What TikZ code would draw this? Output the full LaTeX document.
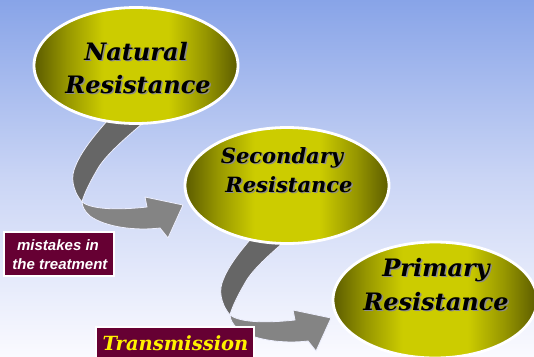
\documentclass[tikz,border=0pt]{standalone}
\usepackage{fontspec}
\usetikzlibrary{shapes.geometric}
\newfontfamily\ellfont{DejaVu Serif}
\newfontfamily\lblfont{Liberation Sans}
\definecolor{bgtop}{RGB}{136,164,232}
\definecolor{bgmid}{RGB}{202,213,245}
\definecolor{bgbot}{RGB}{250,250,255}
\definecolor{eldark}{RGB}{92,92,0}
\definecolor{elmid}{RGB}{150,150,0}
\definecolor{ellight}{RGB}{204,204,0}
\definecolor{boxmaroon}{RGB}{102,0,51}
\definecolor{ribdark}{RGB}{102,102,102}
\definecolor{riblight}{RGB}{132,132,132}
\definecolor{ribedge}{RGB}{238,240,255}
\definecolor{txtshadow}{RGB}{140,140,140}
\pgfdeclarehorizontalshading{ellshade}{100bp}{color(0bp)=(eldark); color(25bp)=(eldark); color(33bp)=(elmid); color(42bp)=(ellight); color(58bp)=(ellight); color(67bp)=(elmid); color(75bp)=(eldark); color(100bp)=(eldark)}
\tikzset{
  ell/.style={ellipse, draw=white, line width=2.8pt, shading=ellshade,
    minimum width=204pt, minimum height=116pt, inner sep=0pt},
  eltxt/.style={anchor=base, inner sep=0pt, text=black,
    font=\ellfont\bfseries\itshape\fontsize{24}{28}\selectfont},
  eltxtsh/.style={eltxt, text=txtshadow},
  smalltxt/.style={font=\ellfont\bfseries\itshape\fontsize{21}{25}\selectfont},
  lblbox/.style={draw=white, fill=boxmaroon, line width=1.5pt, inner sep=0pt},
  ribdarkpart/.style={fill=ribdark, draw=ribedge, line width=0.8pt, line join=round},
  riblightpart/.style={fill=riblight, draw=ribedge, line width=0.8pt, line join=round},
  ribbon/.pic={
    \path[ribdarkpart] (107,121) .. controls (95,135) and (80,152) .. (74,170)
      .. controls (70,182) and (76,195) .. (82,202)
      .. controls (84,194) and (90,182) .. (97,170)
      .. controls (105,155) and (128,136) .. (143,123) -- cycle;
    \path[riblightpart] (82,202) .. controls (90,208) and (110,211) .. (147,207)
      -- (145,197) -- (183,205) -- (168,238) -- (160,228)
      .. controls (135,231) and (105,227) .. (90,216)
      .. controls (85,212) and (82,206) .. (82,202) -- cycle;
  }
}
\newcommand\shtext[4][]{%
  \node[eltxtsh,#1] at ([shift={(1.5,1.5)}]#3) {#4};
  \node[eltxt,#1] (#2) at (#3) {#4};}
\begin{document}
\begin{tikzpicture}[x=1pt,y=-1pt]
  \useasboundingbox (0,0) rectangle (534,356);
  \clip (0,0) rectangle (534,356);
  \shade[top color=bgtop, bottom color=bgbot, middle color=bgmid] (0,0) rectangle (534,356);
  % ribbon arrows
  \pic (arrowA) at (0,0) {ribbon};
  \pic (arrowB) at (148,113) {ribbon};
  % ellipses
  \node[ell] (nat) at (136,65.5) {};
  \node[ell] (sec) at (287,185.5) {};
  \node[ell] (pri) at (435,300) {};
  % ellipse texts
  \shtext{natA}{136,60}{Natural}
  \shtext{natB}{138,93}{Resistance}
  \shtext[smalltxt]{secA}{282,163}{Secondary}
  \shtext[smalltxt]{secB}{289,192}{Resistance}
  \shtext{priA}{436,276}{Primary}
  \shtext{priB}{436,310}{Resistance}
  % label boxes
  \node[lblbox, minimum width=110pt, minimum height=44pt] (misbox) at (59,254) {};
  \node[anchor=base, inner sep=0pt, text=white, font=\lblfont\bfseries\itshape\fontsize{15}{19}\selectfont] (misA) at (58,250) {mistakes in};
  \node[anchor=base, inner sep=0pt, text=white, font=\lblfont\bfseries\itshape\fontsize{15}{19}\selectfont] (misB) at (60,269) {the treatment};
  \node[lblbox, minimum width=158pt, minimum height=44pt] (trbox) at (175,349) {};
  \node[anchor=base, inner sep=0pt, text=yellow, font=\ellfont\bfseries\itshape\fontsize{19.5}{22}\selectfont] (tr) at (175.5,350) {Transmission};
\end{tikzpicture}
\end{document}
